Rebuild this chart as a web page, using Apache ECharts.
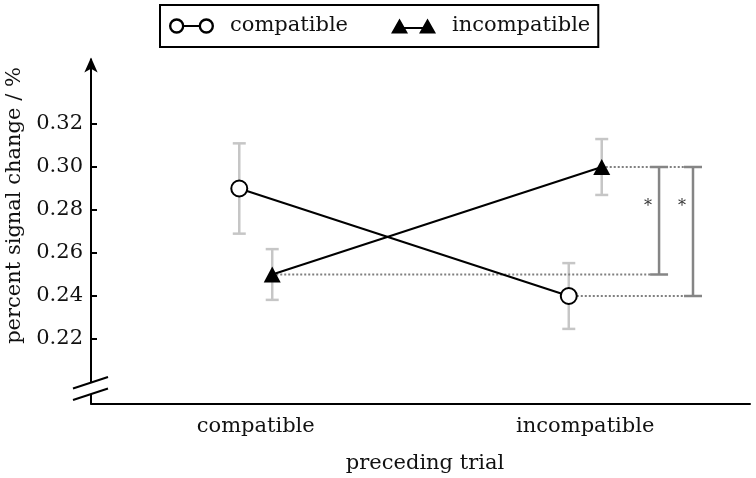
<!DOCTYPE html>
<html><head><meta charset="utf-8">
<script src="https://cdn.jsdelivr.net/npm/echarts@6/dist/echarts.min.js"></script>
<style>html,body{margin:0;padding:0;background:#fff}#c{width:756px;height:478px}</style>
</head><body><div id="c"></div>
<script>
// ---- data ----
const categories = ['compatible', 'incompatible'];
const seriesNames = ['compatible', 'incompatible'];
const compatibleMean = [0.29, 0.24];
const compatibleErr = [0.021, 0.0153];
const incompatibleMean = [0.25, 0.30];
const incompatibleErr = [0.0118, 0.013];
const yTickValues = [0.22, 0.24, 0.26, 0.28, 0.30, 0.32];
const significanceLabels = ['*', '*'];
const xAxisName = 'preceding trial';
const yAxisName = 'percent signal change / %';

// ---- layout / style constants ----
const FONT = 'DejaVu Serif';
const FS = 21;
const DODGE = 0.05;               // horizontal offset of the two series within a category
const BRACKET_X = [1.224, 1.327];  // positions of significance brackets on the dodge axis
const ASTERISK_Y = 0.2816;
const CAP_PX = 9;
const ERR_CAP_PX = 6.5;

const CIRCLE_ICON = 'path://M0.5,8 A7.5,7.5 0 1,1 15.5,8 A7.5,7.5 0 1,1 0.5,8 Z M2.8,8 A5.2,5.2 0 1,0 13.2,8 A5.2,5.2 0 1,0 2.8,8 Z ' +
  'M29.5,8 A7.5,7.5 0 1,1 44.5,8 A7.5,7.5 0 1,1 29.5,8 Z M31.8,8 A5.2,5.2 0 1,0 42.2,8 A5.2,5.2 0 1,0 31.8,8 Z ' +
  'M14.4,7.1 L30.6,7.1 L30.6,8.9 L14.4,8.9 Z';
const TRIANGLE_ICON = 'path://M0,15 L8.5,0 L17,15 Z M28,15 L36.5,0 L45,15 Z M12,8.6 L33,8.6 L33,10.4 L12,10.4 Z';

const compatibleData = compatibleMean.map((v, i) => [i - DODGE, v]);
const incompatibleData = incompatibleMean.map((v, i) => [i + DODGE, v]);
const errData = [];
compatibleMean.forEach((v, i) => errData.push([i - DODGE, v - compatibleErr[i], v + compatibleErr[i]]));
incompatibleMean.forEach((v, i) => errData.push([i + DODGE, v - incompatibleErr[i], v + incompatibleErr[i]]));

const guides = [
  { x0: 0 + DODGE, y: incompatibleMean[0], x1: BRACKET_X[0] },
  { x0: 1 + DODGE, y: incompatibleMean[1], x1: BRACKET_X[1] },
  { x0: 1 - DODGE, y: compatibleMean[1], x1: BRACKET_X[1] }
];
const brackets = [
  { x: BRACKET_X[0], top: incompatibleMean[1], bottom: incompatibleMean[0], label: significanceLabels[0] },
  { x: BRACKET_X[1], top: incompatibleMean[1], bottom: compatibleMean[1], label: significanceLabels[1] }
];

const legendText = { fontFamily: FONT, fontSize: FS, color: '#111', padding: [0, 0, 0, 11] };

const chart = echarts.init(document.getElementById('c'), null, { renderer: 'canvas' });
const option = {
  animation: false,
  backgroundColor: '#fff',
  grid: { left: 91, right: 6, top: 59.5, bottom: 74.5, outerBoundsMode: 'none', containLabel: false },
  legend: {
    left: 160, top: 5,
    padding: [10.5, 8, 10.5, 9],
    borderColor: '#000', borderWidth: 2,
    itemWidth: 45, itemHeight: 16, itemGap: 43,
    selectedMode: false,
    textStyle: legendText,
    data: [
      { name: seriesNames[0], icon: CIRCLE_ICON, itemStyle: { color: '#000', borderWidth: 0 } },
      { name: seriesNames[1], icon: TRIANGLE_ICON, itemStyle: { color: '#000', borderWidth: 0 } }
    ]
  },
  xAxis: [
    {
      type: 'category', data: categories, boundaryGap: true,
      axisLine: { onZero: false, lineStyle: { color: '#000', width: 2 } },
      axisTick: { inside: true, length: 7, alignWithLabel: true, lineStyle: { color: '#000', width: 2 } },
      axisLabel: { fontFamily: FONT, fontSize: FS, color: '#111', margin: 13 },
      splitLine: { show: false },
      name: xAxisName, nameLocation: 'middle', nameGap: 50,
      nameTextStyle: { fontFamily: FONT, fontSize: FS, color: '#111', padding: [0, 0, 0, 9] }
    },
    { type: 'value', min: -0.5, max: 1.5, show: false }
  ],
  yAxis: {
    type: 'value', min: 0.19, max: 0.35,
    axisLine: { show: true, onZero: false, symbol: ['none', 'arrow'], symbolSize: [10, 15], symbolOffset: [0, 2], lineStyle: { color: '#000', width: 2 } },
    axisTick: { show: true, inside: true, length: 6, customValues: yTickValues, lineStyle: { color: '#000', width: 2 } },
    axisLabel: { customValues: yTickValues, formatter: v => v.toFixed(2), fontFamily: FONT, fontSize: FS, color: '#111', margin: 8 },
    splitLine: { show: false },
    name: yAxisName, nameLocation: 'middle', nameGap: 61, nameRotate: 90,
    nameTextStyle: { fontFamily: FONT, fontSize: FS, color: '#111', padding: [0, 0, 0, 52] }
  },
  series: [
    {
      type: 'custom', name: 'err', xAxisIndex: 1, z: 1, silent: true,
      data: errData,
      encode: { x: 0, y: [1, 2] },
      renderItem(params, api) {
        const lo = api.coord([api.value(0), api.value(1)]);
        const hi = api.coord([api.value(0), api.value(2)]);
        const st = { stroke: '#c6c6c6', lineWidth: 2.5 };
        return { type: 'group', children: [
          { type: 'line', shape: { x1: lo[0], y1: lo[1], x2: hi[0], y2: hi[1] }, style: st },
          { type: 'line', shape: { x1: lo[0] - ERR_CAP_PX, y1: lo[1], x2: lo[0] + ERR_CAP_PX, y2: lo[1] }, style: st },
          { type: 'line', shape: { x1: hi[0] - ERR_CAP_PX, y1: hi[1], x2: hi[0] + ERR_CAP_PX, y2: hi[1] }, style: st }
        ] };
      }
    },
    {
      type: 'custom', name: 'sig', xAxisIndex: 1, z: 1, silent: true,
      data: [0],
      renderItem(params, api) {
        const children = [];
        const dotted = { stroke: '#808080', lineWidth: 2, lineDash: [2, 2] };
        const solid = { stroke: '#858585', lineWidth: 2.5 };
        guides.forEach(g => {
          const p0 = api.coord([g.x0, g.y]);
          const p1 = api.coord([g.x1, g.y]);
          children.push({ type: 'line', shape: { x1: p0[0], y1: p0[1], x2: p1[0] - CAP_PX, y2: p1[1] }, style: dotted });
        });
        brackets.forEach(b => {
          const t = api.coord([b.x, b.top]);
          const bt = api.coord([b.x, b.bottom]);
          children.push({ type: 'line', shape: { x1: t[0], y1: t[1], x2: bt[0], y2: bt[1] }, style: solid });
          children.push({ type: 'line', shape: { x1: t[0] - CAP_PX, y1: t[1], x2: t[0] + CAP_PX, y2: t[1] }, style: solid });
          children.push({ type: 'line', shape: { x1: bt[0] - CAP_PX, y1: bt[1], x2: bt[0] + CAP_PX, y2: bt[1] }, style: solid });
          const s = api.coord([b.x, ASTERISK_Y]);
          children.push({ type: 'text', style: { text: b.label, x: s[0] - 11, y: s[1], align: 'center', verticalAlign: 'middle',
            fontFamily: FONT, fontSize: 16, fill: '#333' } });
        });
        return { type: 'group', children };
      }
    },
    {
      type: 'line', name: seriesNames[0], xAxisIndex: 1, z: 3,
      data: compatibleData,
      symbol: 'circle', symbolSize: 16,
      itemStyle: { color: '#fff', borderColor: '#000', borderWidth: 2 },
      lineStyle: { color: '#000', width: 2 }
    },
    {
      type: 'line', name: seriesNames[1], xAxisIndex: 1, z: 3,
      data: incompatibleData,
      symbol: 'triangle', symbolSize: [17, 16],
      itemStyle: { color: '#000' },
      lineStyle: { color: '#000', width: 2 }
    }
  ],
  graphic: [
    { type: 'rect', shape: { x: 88, y: 383, width: 6, height: 11 }, style: { fill: '#fff' }, z: 100 },
    { type: 'line', shape: { x1: 73, y1: 388.5, x2: 108, y2: 377 }, style: { stroke: '#000', lineWidth: 2 }, z: 101 },
    { type: 'line', shape: { x1: 73, y1: 400, x2: 108, y2: 388.5 }, style: { stroke: '#000', lineWidth: 2 }, z: 101 }
  ]
};
chart.setOption(option);
</script>
</body></html>
